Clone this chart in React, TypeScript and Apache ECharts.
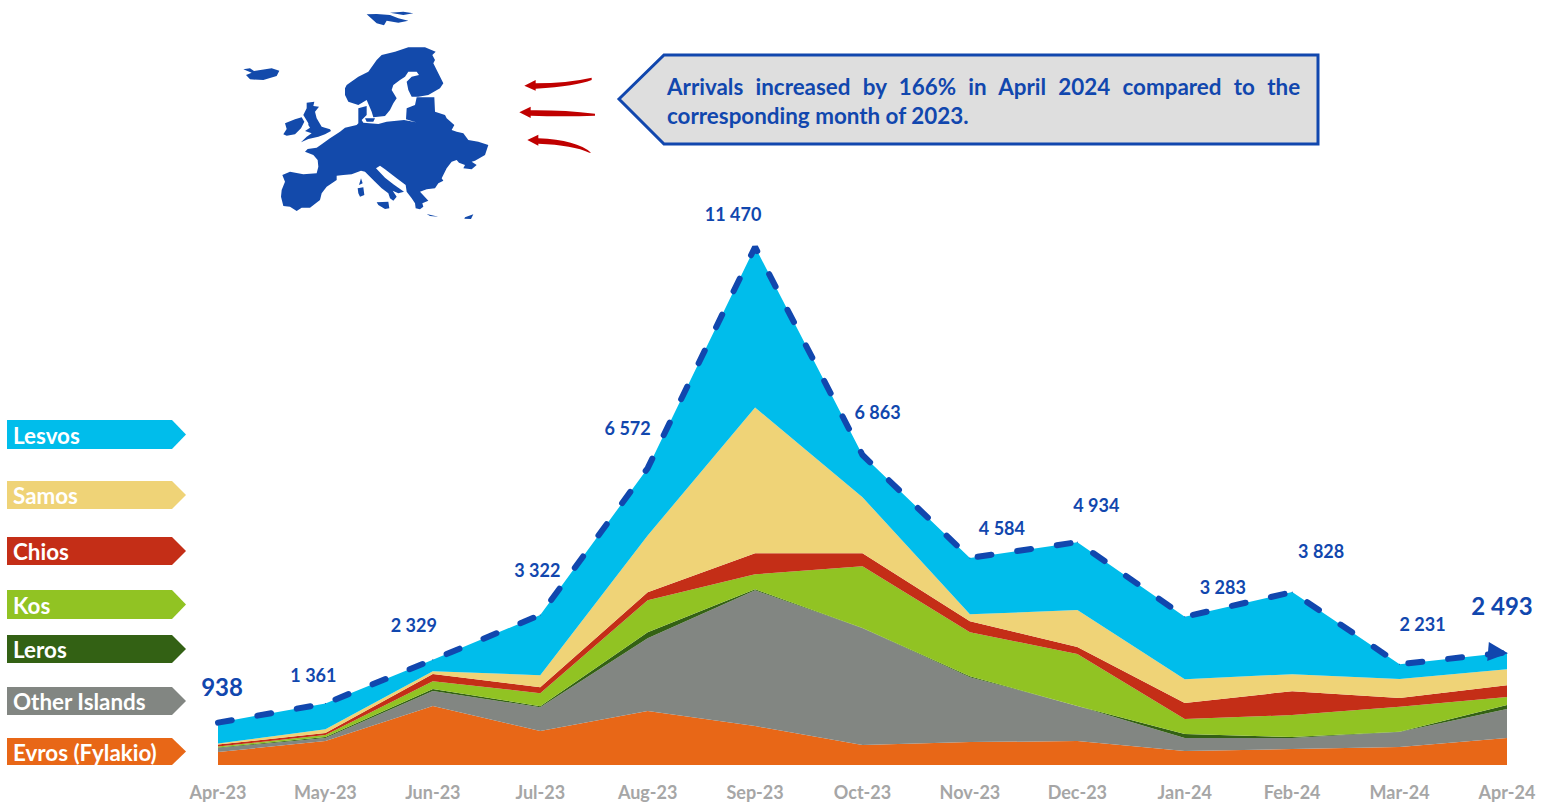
import React, { useEffect, useRef } from "react";
import * as echarts from "echarts";

const months = ["Apr-23","May-23","Jun-23","Jul-23","Aug-23","Sep-23","Oct-23","Nov-23","Dec-23","Jan-24","Feb-24","Mar-24","Apr-24"];
const evros = [287,530,1304,751,1193,862,442,508,530,309,354,398,597];
const otherIslands = [88,66,332,530,1613,3006,2586,1437,774,287,243,332,641];
const leros = [11,22,44,22,133,22,5,22,5,88,22,5,88];
const kos = [22,44,177,287,707,332,1370,972,1149,332,486,552,177];
const chios = [44,44,155,133,177,464,287,243,155,354,530,199,265];
const samos = [22,88,66,265,1260,3227,1238,155,818,530,376,420,354];
const lesvos = [464,567,251,1334,1489,3557,935,1247,1503,1383,1817,325,371];
const totals = [938,1361,2329,3322,6572,11470,6863,4584,4934,3283,3828,2231,2493];

const NAVY = "#1147AE";
const FONT = "Lato";
const labelOffsets = [[4,-36],[-12,-29],[-19,-35],[-3,-45],[-20,-40],[-22,-33],[15,-43],[32,-30],[19,-37],[38,-30],[29,-41],[23,-40],[4,-47]];
const stackSeries = [
  { name: "Evros (Fylakio)", data: evros, color: "#E86717", legendY: 738, legendH: 27 },
  { name: "Other Islands", data: otherIslands, color: "#828682", legendY: 687, legendH: 28 },
  { name: "Leros", data: leros, color: "#336114", legendY: 635, legendH: 28 },
  { name: "Kos", data: kos, color: "#91C323", legendY: 590, legendH: 29 },
  { name: "Chios", data: chios, color: "#C42E17", legendY: 537, legendH: 28 },
  { name: "Samos", data: samos, color: "#EFD377", legendY: 481, legendH: 28 },
  { name: "Lesvos", data: lesvos, color: "#00BDEB", legendY: 420, legendH: 29 },
];

// traced at 3x from x=230, y=0; brought back to page pixels below
const toPage = (d: string) =>
  d.replace(/(\d+),(\d+)/g, (_m, x, y) => `${(Number(x) / 3 + 230).toFixed(2)},${(Number(y) / 3).toFixed(2)}`);

const europePath = toPage([
  "M157,525 L180,515 L220,523 L260,520 L265,500 L263,480 L250,465 L225,455 L233,447 L260,443 L275,433 L300,415 L330,395 L345,383 L380,375 L385,370 L385,325 L410,318 L410,345 L395,360 L400,368 L445,372 L470,365 L500,362 L522,360 L558,367 L528,358 L530,325 L555,315 L560,292 L613,292 L615,335 L645,345 L650,355 L673,375 L665,390 L680,395 L700,400 L715,420 L745,425 L775,435 L765,465 L735,482 L725,485 L740,495 L725,508 L700,505 L705,495 L687,488 L680,480 L665,485 L650,505 L635,535 L640,542 L625,550 L615,565 L590,568 L570,575 L595,602 L577,610 L580,620 L570,628 L557,625 L555,610 L545,595 L530,575 L527,555 L500,535 L465,508 L450,497 L438,505 L465,533 L490,553 L522,575 L505,580 L488,572 L500,590 L490,602 L480,595 L475,580 L455,565 L435,545 L420,530 L405,515 L393,512 L365,523 L340,525 L320,527 L320,540 L290,560 L275,580 L270,600 L240,623 L215,623 L200,633 L180,620 L160,618 L153,590 L155,570 L165,545 Z",
  "M345,265 L350,255 L385,230 L415,215 L440,180 L455,165 L495,155 L535,142 L585,142 L617,155 L607,165 L615,180 L610,190 L625,220 L640,250 L630,265 L595,285 L565,290 L545,290 L535,270 L530,245 L545,230 L567,225 L560,215 L535,215 L525,230 L510,240 L490,255 L485,270 L500,295 L490,310 L480,330 L465,348 L430,352 L425,335 L410,300 L385,315 L355,305 L345,285 Z",
  "M405,355 L435,355 L430,365 L410,365 Z",
  "M230,308 L253,305 L250,318 L267,320 L255,335 L260,355 L275,380 L300,388 L303,393 L285,403 L265,410 L235,417 L213,427 L230,410 L245,400 L225,393 L240,383 L235,375 L235,370 L220,345 L230,325 Z",
  "M165,370 L195,358 L215,352 L223,365 L213,385 L195,403 L170,407 L160,403 L170,387 Z",
  "M40,208 L60,205 L72,213 L125,205 L148,212 L140,228 L100,240 L60,238 L48,225 L65,218 Z",
  "M410,43 L440,42 L480,45 L505,55 L535,62 L505,68 L470,62 L462,76 L440,70 Z",
  "M480,38 L520,35 L550,40 L520,45 Z",
  "M393,535 L398,550 L387,555 Z",
  "M383,565 L400,562 L403,585 L390,590 L385,580 Z",
  "M440,607 L475,605 L478,625 L465,627 L445,615 Z",
  "M590,642 L625,650 L600,648 Z",
  "M705,652 L730,643 L723,657 L703,656 Z",
].join(" "));
const arrowsPath = toPage([
  "M883,257 L917,240 L917,250 Q1010,250 1085,233 L1085,240 Q1040,258 917,266 L917,272 Z",
  "M868,337 L902,320 L902,331 Q1000,330 1095,341 L1095,347 Q1000,350 902,347 L902,354 Z",
  "M892,420 L925,404 L925,415 Q1040,420 1083,458 L1078,458 Q1030,435 925,431 L925,437 Z",
].join(" "));

echarts.graphic.registerShape("europe", echarts.graphic.extendPath(europePath, {}));
echarts.graphic.registerShape("migrationArrows", echarts.graphic.extendPath(arrowsPath, {}));

const calloutLines = ["Arrivals increased by 166% in April 2024 compared to the", "corresponding month of 2023."];
const fmt = (v: number) => String(v).replace(/\B(?=(\d{3})+$)/g, " ");

export default function App() {
  const ref = useRef<HTMLDivElement>(null);
  useEffect(() => {
    const chart = echarts.init(ref.current!, undefined, { renderer: "svg" });
    const legendEls = stackSeries.flatMap((s) => [
      {
        type: "polygon",
        shape: { points: [[7, s.legendY], [172, s.legendY], [186, s.legendY + s.legendH / 2], [172, s.legendY + s.legendH], [7, s.legendY + s.legendH]] },
        style: { fill: s.color },
      },
      {
        type: "text",
        x: 13,
        y: s.legendY + s.legendH / 2 + 0.5,
        style: { text: s.name, fill: "#fff", font: `bold 22.4px ${FONT}`, textVerticalAlign: "middle", textAlign: "left" },
      },
    ]);
    chart.setOption({
      animation: false,
      grid: { left: 218, right: 37, top: 223, bottom: 40 },
      xAxis: {
        type: "category",
        data: months,
        boundaryGap: false,
        axisLine: { show: false },
        axisTick: { show: false },
        axisLabel: { color: "#A6A6A6", fontFamily: FONT, fontWeight: "bold", fontSize: 18, margin: 18, interval: 0 },
      },
      yAxis: { type: "value", min: 0, max: 12000, show: false },
      series: [
        ...stackSeries.map((s) => ({
          name: s.name,
          type: "line",
          stack: "arrivals",
          data: s.data,
          showSymbol: false,
          symbol: "none",
          silent: true,
          lineStyle: { width: 0 },
          itemStyle: { color: s.color },
          areaStyle: { color: s.color, opacity: 1 },
        })),
        {
          name: "Total",
          type: "line",
          z: 5,
          silent: true,
          symbol: "circle",
          symbolSize: 1,
          showAllSymbol: true,
          lineStyle: { color: NAVY, width: 6, type: [14, 26], cap: "round" },
          itemStyle: { color: NAVY },
          label: {
            show: true,
            position: "inside",
            align: "center",
            verticalAlign: "middle",
            color: NAVY,
            fontFamily: FONT,
            fontWeight: "bold",
            fontSize: 18,
            formatter: (p: any) => fmt(p.value),
          },
          data: totals.map((v, i) => {
            const last = i === totals.length - 1;
            return {
              value: v,
              ...(last ? { symbol: "triangle", symbolSize: [19, 20], symbolRotate: -95, symbolOffset: [-9, 0] } : {}),
              label: { offset: labelOffsets[i], fontSize: i === 0 || last ? 24 : 18 },
            };
          }),
        },
      ],
      graphic: [
        { type: "europe", x: 0, y: 0, style: { fill: "#134AAB" } },
        { type: "migrationArrows", x: 0, y: 0, style: { fill: "#C00000" } },
        {
          type: "polygon",
          shape: { points: [[619, 99], [664, 55], [1318, 55], [1318, 144], [664, 144]] },
          style: { fill: "#DEDEDE", stroke: NAVY, lineWidth: 3 },
        },
        ...calloutLines.map((t, i) => ({
          type: "text",
          x: 667,
          y: 86 + i * 29,
          style: { text: t, fill: NAVY, font: `bold 22.4px ${FONT}`, textVerticalAlign: "middle", textAlign: "left" },
        })),
        ...legendEls,
      ],
    });
    // the callout's first line is justified in the reference
    ref.current!.querySelectorAll("text").forEach((node) => {
      if (node.textContent === calloutLines[0]) (node as SVGTextElement).style.wordSpacing = "6.85px";
    });
    return () => chart.dispose();
  }, []);
  return (
    <>
      <style>{`body{margin:0}`}</style>
      <div ref={ref} style={{ position: "fixed", left: 0, top: 0, width: 1544, height: 805, background: "#fff" }} />
    </>
  );
}
